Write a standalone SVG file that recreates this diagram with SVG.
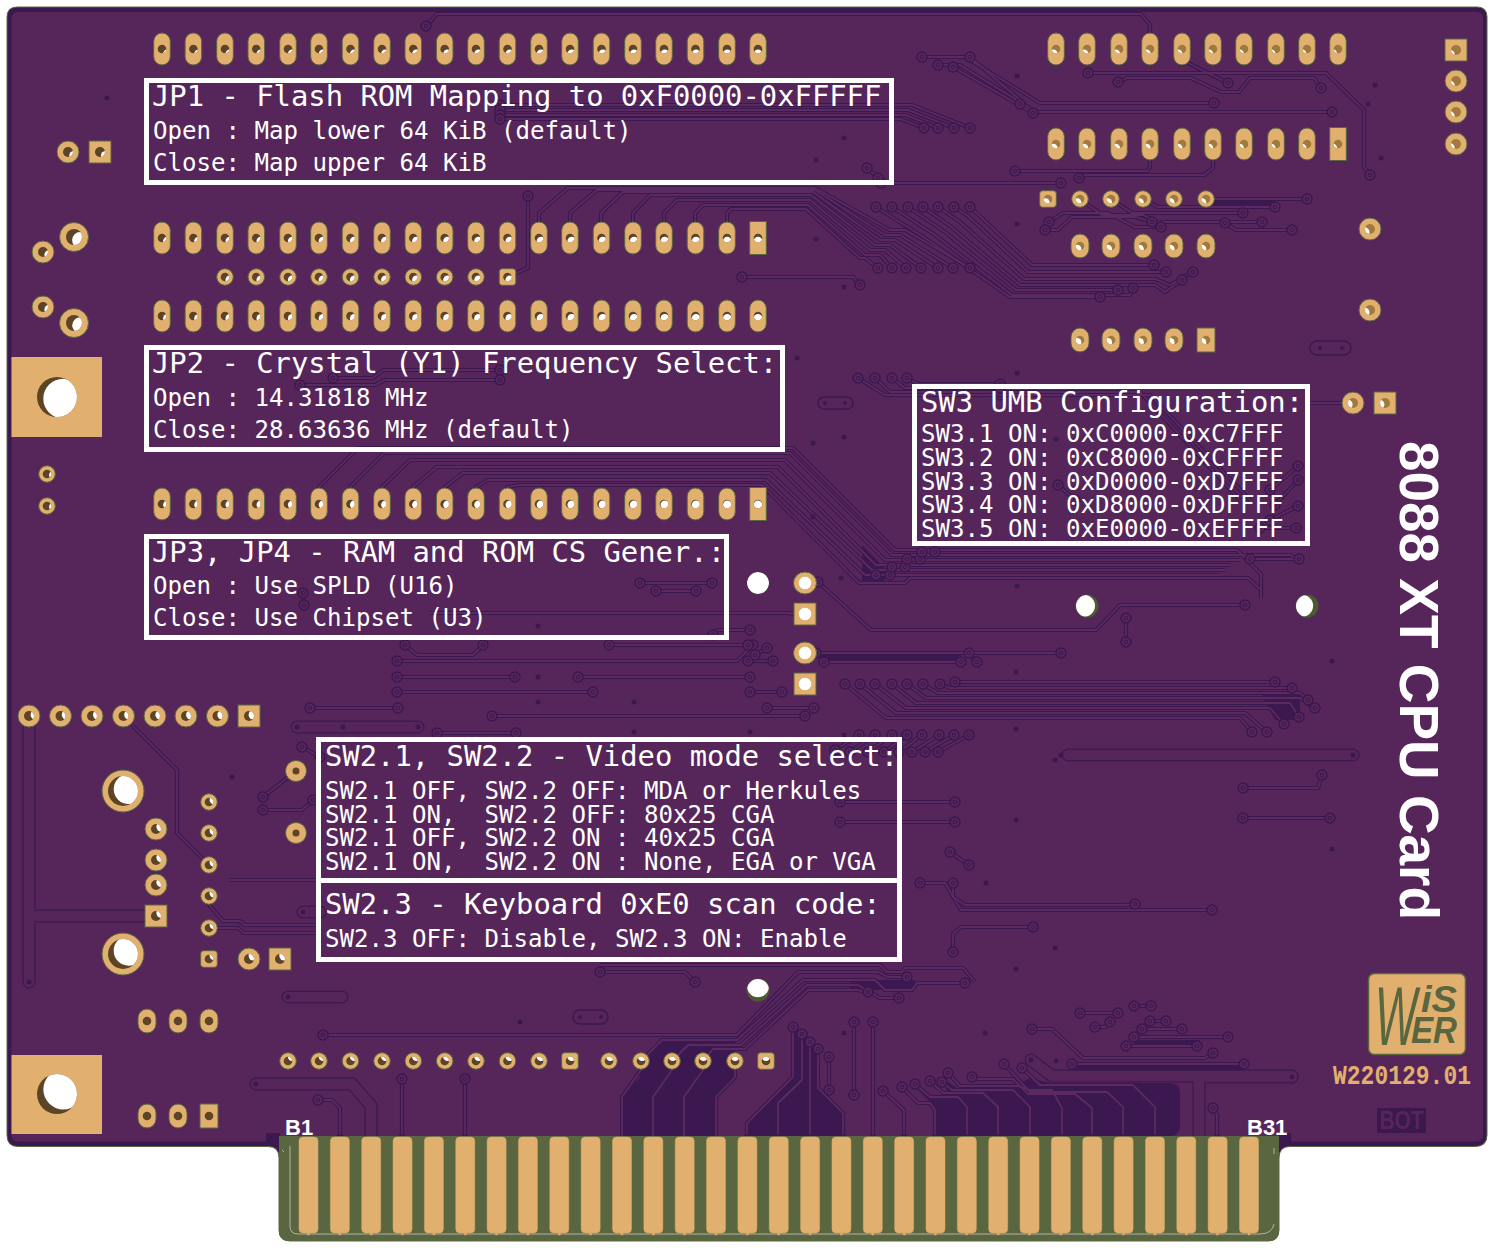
<svg xmlns="http://www.w3.org/2000/svg" width="1495" height="1250" viewBox="0 0 1495 1250">
<style>
svg{--d:#5c4424}
.lt{--d:#a07a3c}
.g{fill:#e2b06e;stroke:#5a6640;stroke-width:1}
.dr{fill:var(--d)}
.w4{r:4.3px;fill:#fff;clip-path:url(#c4)}
.w5{r:5px;fill:#fff;clip-path:url(#c5)}
.w8{r:8px;fill:#fff;clip-path:url(#c8)}
.w15{r:15px;fill:#fff;clip-path:url(#c15)}
.w20{r:20px;fill:#fff;clip-path:url(#c20)}
.w11{r:11px;fill:#fff;clip-path:url(#c11)}
.w6{r:6.5px;fill:#fff;clip-path:url(#c6)}
.box{fill:none;stroke:#fff;stroke-width:5}
.t{font-family:"DejaVu Sans Mono",monospace;fill:#fff;white-space:pre;transform:translateY(.7px)}
.a{font-size:28.85px}
.b{font-size:24.08px}
.lab{font-family:"Liberation Sans",Arial,sans-serif;font-weight:700;fill:#fff}
.dark{fill:#3c1850}
.slot{fill:none;stroke:#3c1850;stroke-width:1.6}
.fp{fill:#e2b06e;stroke:#d8a868;stroke-width:.5}
path{fill:none}
</style>
<defs>
<clipPath id="c4"><circle r="4.3"/></clipPath>
<clipPath id="c5"><circle r="5"/></clipPath>
<clipPath id="c6"><circle r="6.5"/></clipPath>
<clipPath id="c8"><circle r="8"/></clipPath>
<clipPath id="c11"><circle r="11"/></clipPath>
<clipPath id="c15"><circle r="15"/></clipPath>
<clipPath id="c20"><circle r="20"/></clipPath>
<g id="cap"><rect class="g" x="-8.3" y="-16" width="16.6" height="32" rx="8.3"/><circle class="dr" r="4.3"/></g>
<g id="csq"><rect class="g" x="-8.3" y="-16.5" width="16.6" height="33"/><circle class="dr" r="4.3"/></g>
<g id="ov"><rect class="g" x="-9" y="-12" width="18" height="24" rx="9"/><circle class="dr" r="4.3"/></g>
<g id="ovs"><rect class="g" x="-9" y="-12" width="18" height="24"/><circle class="dr" r="4.3"/></g>
<g id="o17"><circle class="g" r="8.3"/><circle class="dr" r="4.3"/></g>
<g id="s17"><rect class="g" x="-8.3" y="-8.3" width="16.6" height="16.6" rx="3"/><circle class="dr" r="4.3"/></g>
<g id="o22"><circle class="g" r="11"/><circle class="dr" r="5"/></g>
<g id="o21s"><circle class="g" r="10.500"/><circle class="dr" r="3.500"/></g>
<g id="s22"><rect class="g" x="-11" y="-11" width="22" height="22"/><circle class="dr" r="5"/></g>
<g id="o29"><circle class="g" r="14.5"/><circle class="dr" r="8"/></g>
<g id="o42"><circle class="g" r="21"/><circle class="dr" r="15"/></g>
<g id="fin"><rect class="fp" x="0" y="1137" width="19" height="96" rx="4"/><rect class="fp" x="8.5" y="1233" width="2" height="2"/></g>
<marker id="via" markerUnits="userSpaceOnUse" markerWidth="16" markerHeight="16" refX="8" refY="8" overflow="visible">
<circle cx="8" cy="8" r="5" fill="#56265b" stroke="#3c1850" stroke-width="1.5"/><circle cx="8" cy="8" r="1.8" fill="#56265b" stroke="#3c1850" stroke-width="1"/>
</marker>
<g id="tr">
<path d="M426 26L437 14H1141L1150 25V49"/>
<path d="M1088 73H1326L1364 110V167L1370 175"/>
<path d="M1118 82L1127 78H1191L1221 92H1239L1250 78H1314L1321 88"/>
<path d="M1182 60L1228 83"/>
<path d="M922 57H965L1040 103H1214"/>
<path d="M938 65H960L1036 112H1332"/>
<path d="M970 57L1020 100V104"/>
<path d="M953 67L1033 113"/>
<path d="M1150 144V167L1147 171H1015"/>
<path d="M1213 144V168L1204 175H1081L1079 178"/>
<path d="M1206 199H1307"/>
<path d="M1143 199L1158 207H1275"/>
<path d="M1111 199L1132 213H1243"/>
<path d="M1080 199L1102 215H1143L1157 222H1262"/>
<path d="M1049 222L1063 213H1108L1135 227H1161"/>
<path d="M1045 230H1058L1072 217H1136L1152 222"/>
<path d="M1225 223L1236 230H1292"/>
<path d="M970 207L1032 265H1154"/>
<path d="M954 207L968 216L1028 272H1166"/>
<path d="M938 207L960 222L1024 279H1155L1170 285L1193 272"/>
<path d="M923 207L950 226L1020 285H1155L1165 292L1182 280"/>
<path d="M908 207L945 232L1016 290H1118"/>
<path d="M892 207L935 235L1012 295H1130L1133 288"/>
<path d="M876 207L925 238L1010 297H1100"/>
<path d="M539 238V213L568 188H815L890 230H905L970 268"/>
<path d="M570 238V213L597 190H815L885 235H900L953 268"/>
<path d="M601 238V213L623 192H813L880 240H895L938 268"/>
<path d="M633 238V213L650 195H811L875 245H890L921 268"/>
<path d="M664 238V213L677 200H810L870 250H885L906 268"/>
<path d="M695 238V213L703 205H808L865 255H880L892 268"/>
<path d="M727 238V213L731 209H806L860 258H865L878 268"/>
<path d="M742 277H853L860 285"/>
<path d="M881 183H1061"/>
<path d="M500 105H912L970 128"/>
<path d="M500 110H908L954 128"/>
<path d="M500 115H905L938 128"/>
<path d="M500 119H900L924 128"/>
<path d="M867 168L878 178"/>
<path d="M333 378H373L383 370H500"/>
<path d="M300 385H375L385 380H500"/>
<path d="M507 277L528 268V196"/>
<path d="M818 582L871 630H1096L1120 605H1245"/>
<path d="M1126 618V642"/>
<path d="M816 653H1061"/>
<path d="M824 662H961"/>
<path d="M969 653L977 662"/>
<path d="M955 682H1275"/>
<path d="M940 684L950 688H1292"/>
<path d="M923 684L938 693H1300L1308 700"/>
<path d="M907 684L926 698H1300L1315 708"/>
<path d="M892 684L916 703H1290L1299 717"/>
<path d="M875 684L906 708H1270L1284 724"/>
<path d="M860 684L896 713H1245L1267 732"/>
<path d="M845 684L886 718H1240L1252 732"/>
<path d="M640 583H712"/>
<path d="M656 591H696"/>
<path d="M405 645L417 655H473L483 645"/>
<path d="M397 661H737L753 645"/>
<path d="M609 645H748"/>
<path d="M748 661H773"/>
<path d="M767 648L755 655"/>
<path d="M713 635L718 630H750"/>
<path d="M397 677H515"/>
<path d="M578 677H750"/>
<path d="M397 692H593"/>
<path d="M750 692H782"/>
<path d="M310 708H398"/>
<path d="M492 716H805"/>
<path d="M767 708H814"/>
<path d="M437 733H516"/>
<path d="M263 797L296 771"/>
<path d="M263 810H302L313 800"/>
<path d="M302 747L320 757"/>
<path d="M209 865L177 833V770L123 716"/>
<path d="M920 883H945L961 910H1212"/>
<path d="M953 883V897L965 905H1125L1135 904"/>
<path d="M950 852L969 865"/>
<path d="M1033 927H961L953 934V952"/>
<path d="M1322 775L1318 788H1243"/>
<path d="M1243 818H1330"/>
<path d="M600 972H685L695 982"/>
<path d="M641 1061L662 1040H737L803 980H875L885 990H912L917 983H965"/>
<path d="M672 1061L688 1045H741L807 985H858L880 998H899"/>
<path d="M703 1061L713 1049H745L808 990H857L868 992"/>
<path d="M323 1035H737L798 972H878L888 977H907"/>
<path d="M747 1140V1123L793 1077V1027"/>
<path d="M778 1140V1103L802 1080V1034"/>
<path d="M810 1042V1140"/>
<path d="M818 1049V1088L843 1113V1140"/>
<path d="M829 1057V1090"/>
<path d="M854 1022V1095"/>
<path d="M873 1022V1140"/>
<path d="M883 1091L904 1110V1140"/>
<path d="M902 1087L918 1103H930L935 1110V1140"/>
<path d="M915 1084L930 1097H958L967 1107V1140"/>
<path d="M930 1081L943 1093H983L998 1107V1140"/>
<path d="M942 1082L952 1090H1013L1030 1107V1140"/>
<path d="M948 1073L960 1086H1018L1030 1090H1052L1062 1108V1140"/>
<path d="M972 1077L978 1079H1013L1028 1094H1075L1092 1108V1140"/>
<path d="M1004 1064L1030 1092H1107L1123 1107V1140"/>
<path d="M1022 1068L1040 1085H1133L1155 1107V1140"/>
<path d="M1032 1029H1052L1083 1058H1205L1213 1053"/>
<path d="M1072 1064H1244"/>
<path d="M1126 1046H1197"/>
<path d="M1134 1037H1228"/>
<path d="M1142 1029H1182"/>
<path d="M1150 1021H1166"/>
<path d="M1080 1013H1118"/>
<path d="M1095 1027H1105L1110 1022"/>
<path d="M1134 1006H1151"/>
<path d="M1213 1108L1217 1115V1140"/>
<path d="M318 1100H332L340 1108V1140"/>
<path d="M402 1079V1140"/>
<path d="M465 1079V1140"/>
<path d="M858 378L885 395H1000"/>
<path d="M875 378L890 392H1000"/>
<path d="M892 378L905 388H1000"/>
<path d="M907 378L918 384H1000"/>
<path d="M876 575H890"/>
<path d="M892 567H905"/>
<path d="M907 559H920"/>
<path d="M922 552H935"/>
<path d="M1270 490L1298 466"/>
<path d="M1275 505L1298 480"/>
<path d="M1270 520L1298 506"/>
<path d="M1260 528H1296"/>
<path d="M1250 559H1299"/>
<path d="M1058 485L1075 500"/>
<path d="M859 735L835 750"/>
<path d="M875 735L850 752"/>
<path d="M892 735L868 752"/>
<path d="M907 735L884 752"/>
<path d="M922 735L899 752"/>
<path d="M939 735L912 752"/>
<path d="M954 735L925 752"/>
<path d="M969 735L938 752"/>
<path d="M840 802H955"/>
<path d="M840 822H955"/>
<path d="M303 593L304 605"/>
</g>
<g id="tn">
<path d="M319 504V487L358 448H793L895 550H1237L1261 574V598"/>
<path d="M350 504V487L384 453H790L892 555H1290L1299 560"/>
<path d="M382 504V487L410 460H785L885 560H1240"/>
<path d="M413 504V487L437 467H778L876 565H1230"/>
<path d="M445 504V487L463 473H770L872 570H1225"/>
<path d="M476 504V487L488 480H766L865 575H1220"/>
<path d="M507 504V487L519 485H762L859 583H905L910 578H1248L1261 590"/>
<path d="M430 613H800"/>
<path d="M641 1061V1070L622 1097V1140"/>
<path d="M672 1061V1070L653 1097V1140"/>
<path d="M703 1061V1070L684 1097V1140"/>
<path d="M735 1061V1077L716 1097V1140"/>
<path d="M600 965H880L887 972H902L905 968H963L975 982"/>
<path d="M1000 395H1150L1250 500"/>
<path d="M1000 392H1140L1240 500"/>
<path d="M209 896V905L223 921H240L245 925H320"/>
<path d="M209 928H238L244 933H320"/>
<path d="M230 880H320"/>
<path d="M1353 403H1310"/>
<path d="M805 614H790"/>
</g>
<g id="tk">
<path d="M1068 755H1353"/>
<path d="M297 727H418"/>
<path d="M303 912H320"/>
<path d="M256 1084H352L371 1106V1140"/>
<path d="M1031 1060L1052 1076H1292"/>
<path d="M1292 1077H1199V1140"/>
<path d="M29 716V982"/>
<path d="M29 916H156"/>
<path d="M288 997H342"/>
</g>
</defs>

<g id="board">
<path d="M17 7H1477Q1487 7 1487 17V1135Q1487 1146.500 1475 1146.500H1290Q1279 1146.500 1279 1158V1230Q1279 1241 1268 1241H290Q279 1241 279 1230V1158Q279 1146.500 268 1146.500H18Q7 1146.500 7 1135V17Q7 7 17 7Z" style="fill:#3c1850;stroke:#5a6640;stroke-width:1"/>
<rect x="11.500" y="12" width="1471.500" height="1129.500" rx="6" fill="#56265b"/>
</g>

<g id="copper-fill">
<path class="dark" d="M622 1136V1095L640 1078V1068L662 1040H735V1078L717 1095V1136Z"/>
<path class="dark" d="M747 1136V1123L793 1077V1027L802 1032L810 1040L818 1048V1088L843 1113V1136Z"/>
<path class="dark" d="M935 1136V1107L914 1086L930 1098H948L945 1080L960 1090H1005L1030 1078L1050 1083H1170Q1180 1083 1180 1093V1125Q1180 1136 1170 1136Z"/>
<path class="dark" d="M1072 1066H1244V1070H1072Z"/>
<path class="dark" d="M1134 1040H1200V1045H1134Z"/>
<path class="dark" d="M862 545L885 568V584H862Z"/>
<path class="dark" d="M816 654H961V661H824Z"/>
<path class="dark" d="M1262 695H1300V720H1275Z"/>
<path class="dark" d="M1206 200H1275V206H1206Z"/>
<path class="dark" d="M850 980H915V990H850Z"/>
</g>

<g id="traces">
<use href="#tr" stroke="#3c1850" stroke-width="4.200"/>
<use href="#tn" stroke="#3c1850" stroke-width="4.200"/>
<use href="#tk" stroke="#3c1850" stroke-width="13" stroke-linecap="round"/>
<use href="#tr" stroke="#5a2a60" stroke-width="1.800"/>
<use href="#tn" stroke="#5a2a60" stroke-width="1.800"/>
<use href="#tk" stroke="#56265b" stroke-width="10.500" stroke-linecap="round"/>
<use href="#tr" marker-start="url(#via)" marker-end="url(#via)"/>
</g>

<g id="dots" class="dark">
<circle cx="107" cy="98" r="2.500"/><circle cx="844" cy="138" r="2.500"/><circle cx="816" cy="160" r="2.500"/><circle cx="1017" cy="76" r="2.500"/><circle cx="1375" cy="85" r="2.500"/><circle cx="1368" cy="104" r="2.500"/><circle cx="1381" cy="158" r="2.500"/><circle cx="1017" cy="224" r="2.500"/><circle cx="816" cy="239" r="2.500"/><circle cx="844" cy="287" r="2.500"/><circle cx="1017" cy="373" r="2.500"/><circle cx="797" cy="358" r="2.500"/><circle cx="813" cy="443" r="2.500"/><circle cx="844" cy="437" r="2.500"/><circle cx="1056" cy="439" r="2.500"/><circle cx="813" cy="517" r="2.500"/><circle cx="841" cy="578" r="2.500"/><circle cx="1017" cy="586" r="2.500"/><circle cx="1016" cy="672" r="2.500"/><circle cx="1016" cy="729" r="2.500"/><circle cx="1055" cy="760" r="2.500"/><circle cx="1016" cy="820" r="2.500"/><circle cx="1332" cy="661" r="2.500"/><circle cx="1332" cy="849" r="2.500"/><circle cx="986" cy="883" r="2.500"/><circle cx="1055" cy="948" r="2.500"/><circle cx="1016" cy="969" r="2.500"/><circle cx="750" cy="732" r="2.500"/><circle cx="844" cy="735" r="2.500"/><circle cx="232" cy="777" r="2.500"/><circle cx="538" cy="626" r="2.500"/><circle cx="538" cy="677" r="2.500"/><circle cx="538" cy="702" r="2.500"/><circle cx="634" cy="702" r="2.500"/><circle cx="634" cy="732" r="2.500"/><circle cx="343" cy="727" r="2.500"/><circle cx="418" cy="727" r="2.500"/><circle cx="844" cy="1033" r="2.500"/><circle cx="985" cy="1033" r="2.500"/><circle cx="1056" cy="1061" r="2.500"/><circle cx="520" cy="1022" r="2.500"/><circle cx="1292" cy="1077" r="2.500"/><circle cx="1031" cy="1060" r="2.500"/><circle cx="1353" cy="755" r="2.500"/><circle cx="29" cy="982" r="2.500"/><circle cx="256" cy="1084" r="2.500"/><circle cx="297" cy="727" r="2.500"/><circle cx="288" cy="997" r="2.500"/><circle cx="303" cy="912" r="2.500"/>
<circle cx="1061" cy="755" r="2.500"/><circle cx="1320" cy="348" r="2"/><circle cx="1342" cy="348" r="2"/><circle cx="825" cy="403" r="2"/><circle cx="845" cy="403" r="2"/><circle cx="580" cy="1017" r="2"/><circle cx="601" cy="1017" r="2"/>
</g>
<g id="slots">
<rect class="slot" x="1310" y="341" width="41" height="14" rx="7"/>
<rect class="slot" x="818" y="397" width="35" height="12" rx="6"/>
<rect class="slot" x="573" y="1010" width="35" height="14" rx="7"/>
</g>

<g id="edge-connector">
<rect class="dark" x="266" y="1133" width="14" height="11"/>
<rect class="dark" x="1278" y="1133" width="13" height="11"/>
<path d="M279 1136H1279V1230Q1279 1241 1268 1241H290Q279 1241 279 1230Z" style="fill:#5a6640"/>
<path d="M290 1146V1226Q290 1234 298 1234H1260Q1272 1234 1274 1224M1274 1148V1154M282 1150L284 1152" style="stroke:#c8c8c0;stroke-width:.8"/>
<use href="#fin" x="299"/><use href="#fin" x="330.350"/><use href="#fin" x="361.700"/><use href="#fin" x="393.050"/><use href="#fin" x="424.400"/><use href="#fin" x="455.750"/><use href="#fin" x="487.100"/><use href="#fin" x="518.450"/><use href="#fin" x="549.800"/><use href="#fin" x="581.150"/><use href="#fin" x="612.500"/><use href="#fin" x="643.850"/><use href="#fin" x="675.200"/><use href="#fin" x="706.550"/><use href="#fin" x="737.900"/><use href="#fin" x="769.250"/><use href="#fin" x="800.600"/><use href="#fin" x="831.950"/><use href="#fin" x="863.300"/><use href="#fin" x="894.650"/><use href="#fin" x="926"/><use href="#fin" x="957.350"/><use href="#fin" x="988.700"/><use href="#fin" x="1020.050"/><use href="#fin" x="1051.400"/><use href="#fin" x="1082.750"/><use href="#fin" x="1114.100"/><use href="#fin" x="1145.450"/><use href="#fin" x="1176.800"/><use href="#fin" x="1208.150"/><use href="#fin" x="1239.500"/>
</g>

<g id="mount">
<rect x="11.500" y="357" width="90.500" height="80" fill="#e2b06e"/><g transform="translate(57 397)"><circle class="dr" r="20"/><circle class="w20" cx="6.300" cy="1.700"/></g>
<rect x="11.500" y="1055" width="90.500" height="79" fill="#e2b06e"/><g transform="translate(57 1094)"><circle class="dr" r="20"/><circle class="w20" cx="6.300" cy="-4.600"/></g>
</g>

<g id="pads-row1">
<g transform="translate(162 49)"><use href="#cap"/><circle class="w4" cx="5.400" cy="4.800"/></g>
<g transform="translate(193.400 49)"><use href="#cap"/><circle class="w4" cx="5.100" cy="4.800"/></g>
<g transform="translate(225 49)"><use href="#cap"/><circle class="w4" cx="4.800" cy="4.800"/></g>
<g transform="translate(256.300 49)"><use href="#cap"/><circle class="w4" cx="4.500" cy="4.800"/></g>
<g transform="translate(288 49)"><use href="#cap"/><circle class="w4" cx="4.200" cy="4.800"/></g>
<g transform="translate(319 49)"><use href="#cap"/><circle class="w4" cx="4" cy="4.800"/></g>
<g transform="translate(350.500 49)"><use href="#cap"/><circle class="w4" cx="3.700" cy="4.800"/></g>
<g transform="translate(382 49)"><use href="#cap"/><circle class="w4" cx="3.400" cy="4.800"/></g>
<g transform="translate(413.300 49)"><use href="#cap"/><circle class="w4" cx="3.100" cy="4.800"/></g>
<g transform="translate(444.700 49)"><use href="#cap"/><circle class="w4" cx="2.800" cy="4.800"/></g>
<g transform="translate(476 49)"><use href="#cap"/><circle class="w4" cx="2.500" cy="4.800"/></g>
<g transform="translate(507.500 49)"><use href="#cap"/><circle class="w4" cx="2.300" cy="4.800"/></g>
<g transform="translate(539 49)"><use href="#cap"/><circle class="w4" cx="2" cy="4.800"/></g>
<g transform="translate(570 49)"><use href="#cap"/><circle class="w4" cx="1.700" cy="4.800"/></g>
<g transform="translate(601.500 49)"><use href="#cap"/><circle class="w4" cx="1.400" cy="4.800"/></g>
<g transform="translate(633 49)"><use href="#cap"/><circle class="w4" cx="1.100" cy="4.800"/></g>
<g transform="translate(664 49)"><use href="#cap"/><circle class="w4" cx=".8" cy="4.800"/></g>
<g transform="translate(695.500 49)"><use href="#cap"/><circle class="w4" cx=".6" cy="4.800"/></g>
<g transform="translate(727 49)"><use href="#cap"/><circle class="w4" cx=".3" cy="4.800"/></g>
<g transform="translate(758 49)"><use href="#cap"/><circle class="w4" cx="0" cy="4.800"/></g>
</g>
<g id="pads-row2">
<g transform="translate(162 238)"><use href="#cap"/><circle class="w4" cx="5.400" cy="3.100"/></g>
<g transform="translate(193.400 238)"><use href="#cap"/><circle class="w4" cx="5.100" cy="3.100"/></g>
<g transform="translate(225 238)"><use href="#cap"/><circle class="w4" cx="4.800" cy="3.100"/></g>
<g transform="translate(256.300 238)"><use href="#cap"/><circle class="w4" cx="4.500" cy="3.100"/></g>
<g transform="translate(288 238)"><use href="#cap"/><circle class="w4" cx="4.200" cy="3.100"/></g>
<g transform="translate(319 238)"><use href="#cap"/><circle class="w4" cx="4" cy="3.100"/></g>
<g transform="translate(350.500 238)"><use href="#cap"/><circle class="w4" cx="3.700" cy="3.100"/></g>
<g transform="translate(382 238)"><use href="#cap"/><circle class="w4" cx="3.400" cy="3.100"/></g>
<g transform="translate(413.300 238)"><use href="#cap"/><circle class="w4" cx="3.100" cy="3.100"/></g>
<g transform="translate(444.700 238)"><use href="#cap"/><circle class="w4" cx="2.800" cy="3.100"/></g>
<g transform="translate(476 238)"><use href="#cap"/><circle class="w4" cx="2.500" cy="3.100"/></g>
<g transform="translate(507.500 238)"><use href="#cap"/><circle class="w4" cx="2.300" cy="3.100"/></g>
<g transform="translate(539 238)"><use href="#cap"/><circle class="w4" cx="2" cy="3.100"/></g>
<g transform="translate(570 238)"><use href="#cap"/><circle class="w4" cx="1.700" cy="3.100"/></g>
<g transform="translate(601.500 238)"><use href="#cap"/><circle class="w4" cx="1.400" cy="3.100"/></g>
<g transform="translate(633 238)"><use href="#cap"/><circle class="w4" cx="1.100" cy="3.100"/></g>
<g transform="translate(664 238)"><use href="#cap"/><circle class="w4" cx=".8" cy="3.100"/></g>
<g transform="translate(695.500 238)"><use href="#cap"/><circle class="w4" cx=".6" cy="3.100"/></g>
<g transform="translate(727 238)"><use href="#cap"/><circle class="w4" cx=".3" cy="3.100"/></g>
<g transform="translate(758 238)"><use href="#csq"/><circle class="w4" cx="0" cy="3.100"/></g>
</g>
<g id="pads-row3">
<g transform="translate(225 277)"><use href="#o17"/><circle class="w4" cx="4.800" cy="2.800"/></g>
<g transform="translate(256.300 277)"><use href="#o17"/><circle class="w4" cx="4.500" cy="2.800"/></g>
<g transform="translate(288 277)"><use href="#o17"/><circle class="w4" cx="4.200" cy="2.800"/></g>
<g transform="translate(319 277)"><use href="#o17"/><circle class="w4" cx="4" cy="2.800"/></g>
<g transform="translate(350.500 277)"><use href="#o17"/><circle class="w4" cx="3.700" cy="2.800"/></g>
<g transform="translate(382 277)"><use href="#o17"/><circle class="w4" cx="3.400" cy="2.800"/></g>
<g transform="translate(413.300 277)"><use href="#o17"/><circle class="w4" cx="3.100" cy="2.800"/></g>
<g transform="translate(444.700 277)"><use href="#o17"/><circle class="w4" cx="2.800" cy="2.800"/></g>
<g transform="translate(476 277)"><use href="#o17"/><circle class="w4" cx="2.500" cy="2.800"/></g>
<g transform="translate(507.500 277)"><use href="#s17"/><circle class="w4" cx="2.300" cy="2.800"/></g>
</g>
<g id="pads-row4">
<g transform="translate(162 316)"><use href="#cap"/><circle class="w4" cx="5.400" cy="2.400"/></g>
<g transform="translate(193.400 316)"><use href="#cap"/><circle class="w4" cx="5.100" cy="2.400"/></g>
<g transform="translate(225 316)"><use href="#cap"/><circle class="w4" cx="4.800" cy="2.400"/></g>
<g transform="translate(256.300 316)"><use href="#cap"/><circle class="w4" cx="4.500" cy="2.400"/></g>
<g transform="translate(288 316)"><use href="#cap"/><circle class="w4" cx="4.200" cy="2.400"/></g>
<g transform="translate(319 316)"><use href="#cap"/><circle class="w4" cx="4" cy="2.400"/></g>
<g transform="translate(350.500 316)"><use href="#cap"/><circle class="w4" cx="3.700" cy="2.400"/></g>
<g transform="translate(382 316)"><use href="#cap"/><circle class="w4" cx="3.400" cy="2.400"/></g>
<g transform="translate(413.300 316)"><use href="#cap"/><circle class="w4" cx="3.100" cy="2.400"/></g>
<g transform="translate(444.700 316)"><use href="#cap"/><circle class="w4" cx="2.800" cy="2.400"/></g>
<g transform="translate(476 316)"><use href="#cap"/><circle class="w4" cx="2.500" cy="2.400"/></g>
<g transform="translate(507.500 316)"><use href="#cap"/><circle class="w4" cx="2.300" cy="2.400"/></g>
<g transform="translate(539 316)"><use href="#cap"/><circle class="w4" cx="2" cy="2.400"/></g>
<g transform="translate(570 316)"><use href="#cap"/><circle class="w4" cx="1.700" cy="2.400"/></g>
<g transform="translate(601.500 316)"><use href="#cap"/><circle class="w4" cx="1.400" cy="2.400"/></g>
<g transform="translate(633 316)"><use href="#cap"/><circle class="w4" cx="1.100" cy="2.400"/></g>
<g transform="translate(664 316)"><use href="#cap"/><circle class="w4" cx=".8" cy="2.400"/></g>
<g transform="translate(695.500 316)"><use href="#cap"/><circle class="w4" cx=".6" cy="2.400"/></g>
<g transform="translate(727 316)"><use href="#cap"/><circle class="w4" cx=".3" cy="2.400"/></g>
<g transform="translate(758 316)"><use href="#cap"/><circle class="w4" cx="0" cy="2.400"/></g>
</g>
<g id="pads-row5">
<g transform="translate(162 504)"><use href="#cap"/><circle class="w4" cx="5.400" cy=".7"/></g>
<g transform="translate(193.400 504)"><use href="#cap"/><circle class="w4" cx="5.100" cy=".7"/></g>
<g transform="translate(225 504)"><use href="#cap"/><circle class="w4" cx="4.800" cy=".7"/></g>
<g transform="translate(256.300 504)"><use href="#cap"/><circle class="w4" cx="4.500" cy=".7"/></g>
<g transform="translate(288 504)"><use href="#cap"/><circle class="w4" cx="4.200" cy=".7"/></g>
<g transform="translate(319 504)"><use href="#cap"/><circle class="w4" cx="4" cy=".7"/></g>
<g transform="translate(350.500 504)"><use href="#cap"/><circle class="w4" cx="3.700" cy=".7"/></g>
<g transform="translate(382 504)"><use href="#cap"/><circle class="w4" cx="3.400" cy=".7"/></g>
<g transform="translate(413.300 504)"><use href="#cap"/><circle class="w4" cx="3.100" cy=".7"/></g>
<g transform="translate(444.700 504)"><use href="#cap"/><circle class="w4" cx="2.800" cy=".7"/></g>
<g transform="translate(476 504)"><use href="#cap"/><circle class="w4" cx="2.500" cy=".7"/></g>
<g transform="translate(507.500 504)"><use href="#cap"/><circle class="w4" cx="2.300" cy=".7"/></g>
<g transform="translate(539 504)"><use href="#cap"/><circle class="w4" cx="2" cy=".7"/></g>
<g transform="translate(570 504)"><use href="#cap"/><circle class="w4" cx="1.700" cy=".7"/></g>
<g transform="translate(601.500 504)"><use href="#cap"/><circle class="w4" cx="1.400" cy=".7"/></g>
<g transform="translate(633 504)"><use href="#cap"/><circle class="w4" cx="1.100" cy=".7"/></g>
<g transform="translate(664 504)"><use href="#cap"/><circle class="w4" cx=".8" cy=".7"/></g>
<g transform="translate(695.500 504)"><use href="#cap"/><circle class="w4" cx=".6" cy=".7"/></g>
<g transform="translate(727 504)"><use href="#cap"/><circle class="w4" cx=".3" cy=".7"/></g>
<g transform="translate(758 504)"><use href="#csq"/><circle class="w4" cx="0" cy=".7"/></g>
</g>

<g id="pads-right" class="lt">
<g transform="translate(1056 49)"><use href="#cap"/><circle class="w4" cx="-2.700" cy="4.800"/></g>
<g transform="translate(1087 49)"><use href="#cap"/><circle class="w4" cx="-3" cy="4.800"/></g>
<g transform="translate(1119 49)"><use href="#cap"/><circle class="w4" cx="-3.200" cy="4.800"/></g>
<g transform="translate(1150 49)"><use href="#cap"/><circle class="w4" cx="-3.500" cy="4.800"/></g>
<g transform="translate(1182 49)"><use href="#cap"/><circle class="w4" cx="-3.800" cy="4.800"/></g>
<g transform="translate(1213 49)"><use href="#cap"/><circle class="w4" cx="-4.100" cy="4.800"/></g>
<g transform="translate(1244 49)"><use href="#cap"/><circle class="w4" cx="-4.400" cy="4.800"/></g>
<g transform="translate(1276 49)"><use href="#cap"/><circle class="w4" cx="-4.700" cy="4.800"/></g>
<g transform="translate(1307 49)"><use href="#cap"/><circle class="w4" cx="-4.900" cy="4.800"/></g>
<g transform="translate(1338 49)"><use href="#cap"/><circle class="w4" cx="-5.200" cy="4.800"/></g>
<g transform="translate(1056 144)"><use href="#cap"/><circle class="w4" cx="-2.700" cy="4"/></g>
<g transform="translate(1087 144)"><use href="#cap"/><circle class="w4" cx="-3" cy="4"/></g>
<g transform="translate(1119 144)"><use href="#cap"/><circle class="w4" cx="-3.200" cy="4"/></g>
<g transform="translate(1150 144)"><use href="#cap"/><circle class="w4" cx="-3.500" cy="4"/></g>
<g transform="translate(1182 144)"><use href="#cap"/><circle class="w4" cx="-3.800" cy="4"/></g>
<g transform="translate(1213 144)"><use href="#cap"/><circle class="w4" cx="-4.100" cy="4"/></g>
<g transform="translate(1244 144)"><use href="#cap"/><circle class="w4" cx="-4.400" cy="4"/></g>
<g transform="translate(1276 144)"><use href="#cap"/><circle class="w4" cx="-4.700" cy="4"/></g>
<g transform="translate(1307 144)"><use href="#cap"/><circle class="w4" cx="-4.900" cy="4"/></g>
<g transform="translate(1338 144)"><use href="#csq"/><circle class="w4" cx="-5.200" cy="4"/></g>
<g transform="translate(1048 199)"><use href="#s17"/><circle class="w4" cx="-2.600" cy="3.500"/></g>
<g transform="translate(1080 199)"><use href="#o17"/><circle class="w4" cx="-2.900" cy="3.500"/></g>
<g transform="translate(1111 199)"><use href="#o17"/><circle class="w4" cx="-3.200" cy="3.500"/></g>
<g transform="translate(1143 199)"><use href="#o17"/><circle class="w4" cx="-3.500" cy="3.500"/></g>
<g transform="translate(1174 199)"><use href="#o17"/><circle class="w4" cx="-3.700" cy="3.500"/></g>
<g transform="translate(1206 199)"><use href="#o17"/><circle class="w4" cx="-4" cy="3.500"/></g>
<g transform="translate(1080 246)"><use href="#ov"/><circle class="w4" cx="-2.900" cy="3"/></g>
<g transform="translate(1111 246)"><use href="#ov"/><circle class="w4" cx="-3.200" cy="3"/></g>
<g transform="translate(1143 246)"><use href="#ov"/><circle class="w4" cx="-3.500" cy="3"/></g>
<g transform="translate(1174 246)"><use href="#ov"/><circle class="w4" cx="-3.700" cy="3"/></g>
<g transform="translate(1206 246)"><use href="#ov"/><circle class="w4" cx="-4" cy="3"/></g>
<g transform="translate(1080 340)"><use href="#ov"/><circle class="w4" cx="-2.900" cy="2.200"/></g>
<g transform="translate(1111 340)"><use href="#ov"/><circle class="w4" cx="-3.200" cy="2.200"/></g>
<g transform="translate(1143 340)"><use href="#ov"/><circle class="w4" cx="-3.500" cy="2.200"/></g>
<g transform="translate(1174 340)"><use href="#ov"/><circle class="w4" cx="-3.700" cy="2.200"/></g>
<g transform="translate(1206 340)"><use href="#ovs"/><circle class="w4" cx="-4" cy="2.200"/></g>
<g transform="translate(1370 229)"><use href="#o22"/><circle class="w5" cx="-5.500" cy="3.200"/></g>
<g transform="translate(1370 310)"><use href="#o22"/><circle class="w5" cx="-5.500" cy="2.500"/></g>
<g transform="translate(1353 403)"><use href="#o22"/><circle class="w5" cx="-5.400" cy="1.600"/></g>
<g transform="translate(1385 403)"><use href="#s22"/><circle class="w5" cx="-5.600" cy="1.600"/></g>
<g transform="translate(1456 50)"><use href="#s22"/><circle class="w5" cx="-6.300" cy="4.800"/></g>
<g transform="translate(1456 81)"><use href="#o22"/><circle class="w5" cx="-6.300" cy="4.500"/></g>
<g transform="translate(1456 112)"><use href="#o22"/><circle class="w5" cx="-6.300" cy="4.200"/></g>
<g transform="translate(1456 144)"><use href="#o22"/><circle class="w5" cx="-6.300" cy="4"/></g>
</g>

<g id="pads-left">
<g transform="translate(68 152)"><use href="#o22"/><circle class="w5" cx="6.200" cy="3.900"/></g>
<g transform="translate(100 152)"><use href="#s22"/><circle class="w5" cx="5.900" cy="3.900"/></g>
<g transform="translate(74 237)"><use href="#o29"/><circle class="w8" cx="6.100" cy="3.100"/></g>
<g transform="translate(43 252)"><use href="#o22"/><circle class="w5" cx="6.400" cy="3"/></g>
<g transform="translate(43 307)"><use href="#o22"/><circle class="w5" cx="6.400" cy="2.500"/></g>
<g transform="translate(74 323)"><use href="#o29"/><circle class="w8" cx="6.200" cy="2.300"/></g>
<g transform="translate(47 474)"><use href="#o17"/><circle class="w4" cx="6.400" cy="1"/></g>
<g transform="translate(47 506)"><use href="#o17"/><circle class="w4" cx="6.400" cy=".7"/></g>
<g transform="translate(29 716)"><use href="#o22"/><circle class="w5" cx="6.600" cy="-1.200"/></g>
<g transform="translate(60.500 716)"><use href="#o22"/><circle class="w5" cx="6.300" cy="-1.200"/></g>
<g transform="translate(92 716)"><use href="#o22"/><circle class="w5" cx="6" cy="-1.200"/></g>
<g transform="translate(123.500 716)"><use href="#o22"/><circle class="w5" cx="5.700" cy="-1.200"/></g>
<g transform="translate(155 716)"><use href="#o22"/><circle class="w5" cx="5.400" cy="-1.200"/></g>
<g transform="translate(186 716)"><use href="#o22"/><circle class="w5" cx="5.100" cy="-1.200"/></g>
<g transform="translate(217.500 716)"><use href="#o22"/><circle class="w5" cx="4.900" cy="-1.200"/></g>
<g transform="translate(249 716)"><use href="#s22"/><circle class="w5" cx="4.600" cy="-1.200"/></g>
<g transform="translate(123 791)"><use href="#o42"/><circle class="w15" cx="5.700" cy="-1.900"/></g>
<g transform="translate(123 954)"><use href="#o42"/><circle class="w15" cx="5.700" cy="-3.300"/></g>
<g transform="translate(156 829)"><use href="#o22"/><circle class="w5" cx="5.400" cy="-2.200"/></g>
<g transform="translate(156 860)"><use href="#o22"/><circle class="w5" cx="5.400" cy="-2.500"/></g>
<g transform="translate(156 885)"><use href="#o22"/><circle class="w5" cx="5.400" cy="-2.700"/></g>
<g transform="translate(156 916)"><use href="#s22"/><circle class="w5" cx="5.400" cy="-3"/></g>
<g transform="translate(209 802)"><use href="#o17"/><circle class="w4" cx="4.900" cy="-2"/></g>
<g transform="translate(209 833)"><use href="#o17"/><circle class="w4" cx="4.900" cy="-2.200"/></g>
<g transform="translate(209 865)"><use href="#o17"/><circle class="w4" cx="4.900" cy="-2.500"/></g>
<g transform="translate(209 896)"><use href="#o17"/><circle class="w4" cx="4.900" cy="-2.800"/></g>
<g transform="translate(209 928)"><use href="#o17"/><circle class="w4" cx="4.900" cy="-3.100"/></g>
<g transform="translate(209 959)"><use href="#s17"/><circle class="w4" cx="4.900" cy="-3.400"/></g>
<g transform="translate(249 959)"><use href="#o22"/><circle class="w5" cx="4.600" cy="-3.400"/></g>
<g transform="translate(280 959)"><use href="#s22"/><circle class="w5" cx="4.300" cy="-3.400"/></g>
<use href="#o21s" x="296" y="771"/><use href="#o21s" x="296" y="833"/>
<use href="#ov" x="147" y="1021"/><use href="#ov" x="178" y="1021"/><use href="#ov" x="209" y="1021"/>
<use href="#ov" x="147" y="1116"/><use href="#ov" x="178" y="1116"/><use href="#ovs" x="209" y="1116"/>
</g>

<g id="pads-bottom">
<g transform="translate(288 1061)"><use href="#o17"/><circle class="w4" cx="4.200" cy="-4.300"/></g>
<g transform="translate(319 1061)"><use href="#o17"/><circle class="w4" cx="4" cy="-4.300"/></g>
<g transform="translate(350.500 1061)"><use href="#o17"/><circle class="w4" cx="3.700" cy="-4.300"/></g>
<g transform="translate(382 1061)"><use href="#o17"/><circle class="w4" cx="3.400" cy="-4.300"/></g>
<g transform="translate(413.300 1061)"><use href="#o17"/><circle class="w4" cx="3.100" cy="-4.300"/></g>
<g transform="translate(444.700 1061)"><use href="#o17"/><circle class="w4" cx="2.800" cy="-4.300"/></g>
<g transform="translate(476 1061)"><use href="#o17"/><circle class="w4" cx="2.500" cy="-4.300"/></g>
<g transform="translate(507.500 1061)"><use href="#o17"/><circle class="w4" cx="2.300" cy="-4.300"/></g>
<g transform="translate(539 1061)"><use href="#o17"/><circle class="w4" cx="2" cy="-4.300"/></g>
<g transform="translate(570 1061)"><use href="#s17"/><circle class="w4" cx="1.700" cy="-4.300"/></g>
<g transform="translate(609 1061)"><use href="#o17"/><circle class="w4" cx="1.300" cy="-4.300"/></g>
<g transform="translate(641 1061)"><use href="#o17"/><circle class="w4" cx="1.100" cy="-4.300"/></g>
<g transform="translate(672 1061)"><use href="#o17"/><circle class="w4" cx=".8" cy="-4.300"/></g>
<g transform="translate(703 1061)"><use href="#o17"/><circle class="w4" cx=".5" cy="-4.300"/></g>
<g transform="translate(735 1061)"><use href="#o17"/><circle class="w4" cx=".2" cy="-4.300"/></g>
<g transform="translate(766 1061)"><use href="#s17"/><circle class="w4" cx="-.1" cy="-4.300"/></g>
</g>

<g id="pads-mid">
<g transform="translate(805 583)"><ellipse class="g" rx="11.500" ry="11"/><circle class="w6"/></g>
<g transform="translate(805 614)"><rect class="g" x="-11" y="-11" width="22" height="22"/><circle class="w6"/></g>
<g transform="translate(805 653)"><ellipse class="g" rx="11.500" ry="11"/><circle class="w6"/></g>
<g transform="translate(805 684)"><rect class="g" x="-11" y="-11" width="22" height="22"/><circle class="w6"/></g>
<g transform="translate(758 583)"><circle r="11" style="fill:#5a6640"/><circle class="w11" r="10.500"/></g>
<g transform="translate(1087 606)"><circle r="11.500" style="fill:#4c5a30"/><circle class="w11" cx="-3" cy="-.2"/></g>
<g transform="translate(1307 606)"><circle r="11.500" style="fill:#4c5a30"/><circle class="w11" cx="-4.900" cy="-.2"/></g>
<g transform="translate(758 990)"><circle r="11.500" style="fill:#4c5a30"/><circle class="w11" cx="0" cy="-3.700"/></g>
</g>

<g id="silk">
<text class="lab" x="285" y="1135" font-size="22">B1</text>
<text class="lab" x="1247" y="1135" font-size="22">B31</text>
<text class="lab" transform="translate(1400 441) rotate(90)" font-size="56" textLength="479" lengthAdjust="spacingAndGlyphs">8088 XT CPU Card</text>
<rect x="1377" y="1108" width="49" height="25" fill="#3c1850"/>
<text x="1401.500" y="1129" font-family="'Liberation Sans',sans-serif" font-weight="700" font-size="25" fill="#56265b" text-anchor="middle" textLength="44" lengthAdjust="spacingAndGlyphs">BOT</text>
<text x="1333" y="1084" font-family="'Liberation Mono',monospace" font-weight="700" font-size="27" fill="#e2b06e" textLength="138" lengthAdjust="spacingAndGlyphs">W220129.01</text>
</g>

<g id="logo">
<rect x="1368.500" y="973.500" width="97" height="81" rx="6" fill="#e2b06e" stroke="#5a6640" stroke-width="1.500"/>
<g font-family="'Liberation Sans',sans-serif" font-style="italic" fill="#5a6640">
<text x="1375" y="1045" font-size="84" textLength="42" lengthAdjust="spacingAndGlyphs">W</text>
<text x="1421" y="1012" font-size="36" font-weight="700" textLength="36" lengthAdjust="spacingAndGlyphs">iS</text>
<text x="1411" y="1043" font-size="36" font-weight="700" textLength="46" lengthAdjust="spacingAndGlyphs">ER</text>
</g>
</g>

<g id="jp1">
<rect class="box" x="146.500" y="80.500" width="745" height="102"/>
<text class="t a" x="152" y="105">JP1 - Flash ROM Mapping to 0xF0000-0xFFFFF</text>
<text class="t b" x="153" y="138">Open : Map lower 64 KiB (default)</text>
<text class="t b" x="153" y="170">Close: Map upper 64 KiB</text>
</g>
<g id="jp2">
<rect class="box" x="146.500" y="347.500" width="636" height="102"/>
<text class="t a" x="152" y="372">JP2 - Crystal (Y1) Frequency Select:</text>
<text class="t b" x="153" y="405">Open : 14.31818 MHz</text>
<text class="t b" x="153" y="437">Close: 28.63636 MHz (default)</text>
</g>
<g id="jp3">
<rect class="box" x="146.500" y="536.500" width="580" height="101"/>
<text class="t a" x="152" y="561">JP3, JP4 - RAM and ROM CS Gener.:</text>
<text class="t b" x="153" y="593">Open : Use SPLD (U16)</text>
<text class="t b" x="153" y="625">Close: Use Chipset (U3)</text>
</g>
<g id="sw3">
<rect class="box" x="914.500" y="386.500" width="393" height="157"/>
<text class="t a" x="921" y="411">SW3 UMB Configuration:</text>
<text class="t b" x="921" y="441">SW3.1 ON: 0xC0000-0xC7FFF</text>
<text class="t b" x="921" y="465">SW3.2 ON: 0xC8000-0xCFFFF</text>
<text class="t b" x="921" y="489">SW3.3 ON: 0xD0000-0xD7FFF</text>
<text class="t b" x="921" y="512">SW3.4 ON: 0xD8000-0xDFFFF</text>
<text class="t b" x="921" y="536">SW3.5 ON: 0xE0000-0xEFFFF</text>
</g>
<g id="sw2">
<rect class="box" x="318.500" y="739.500" width="581" height="220"/>
<path d="M318.500 880.500H899.500" style="stroke:#fff;stroke-width:5"/>
<text class="t a" x="325" y="765">SW2.1, SW2.2 - Video mode select:</text>
<text class="t b" x="325" y="798">SW2.1 OFF, SW2.2 OFF: MDA or Herkules</text>
<text class="t b" x="325" y="822">SW2.1 ON,  SW2.2 OFF: 80x25 CGA</text>
<text class="t b" x="325" y="845">SW2.1 OFF, SW2.2 ON : 40x25 CGA</text>
<text class="t b" x="325" y="869">SW2.1 ON,  SW2.2 ON : None, EGA or VGA</text>
<text class="t a" x="325" y="913">SW2.3 - Keyboard 0xE0 scan code:</text>
<text class="t b" x="325" y="946">SW2.3 OFF: Disable, SW2.3 ON: Enable</text>
</g>
</svg>
